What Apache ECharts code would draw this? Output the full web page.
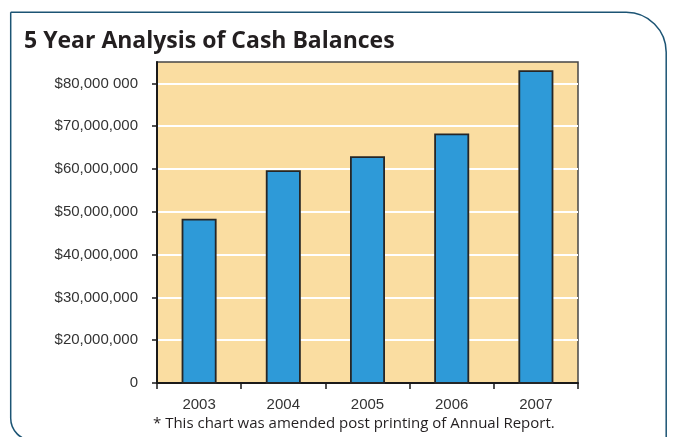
<!DOCTYPE html>
<html>
<head>
<meta charset="utf-8">
<title>5 Year Analysis of Cash Balances</title>
<script src="https://cdn.jsdelivr.net/npm/echarts@6/dist/echarts.min.js"></script>
<style>
  html, body { margin: 0; padding: 0; background: #ffffff; }
  #chart { width: 673px; height: 437px; }
</style>
</head>
<body>
<div id="chart"></div>
<script>
// Year-end cash balances
const years = ['2003', '2004', '2005', '2006', '2007'];
const cashBalances = [48400000, 59700000, 63000000, 68300000, 83100000];

// Value-axis ticks and the text printed beside each one
const yTickValues = [10000000, 20000000, 30000000, 40000000, 50000000, 60000000, 70000000, 80000000];
const yTickLabels = ['0', '$20,000,000', '$30,000,000', '$40,000,000', '$50,000,000', '$60,000,000', '$70,000,000', '$80,000 000'];

const titleText = '5 Year Analysis of Cash Balances';
const footnoteText = '* This chart was amended post printing of Annual Report.';

const chart = echarts.init(document.getElementById('chart'), null, { renderer: 'canvas' });

chart.setOption({
  animation: false,
  backgroundColor: '#ffffff',
  title: {
    text: titleText,
    left: 19,
    top: 25,
    textStyle: {
      fontFamily: 'Open Sans',
      fontWeight: 'bold',
      fontSize: 23,
      color: '#231f20'
    }
  },
  grid: {
    left: 157,
    right: 95,
    top: 62,
    bottom: 54,
    show: true,
    backgroundColor: '#fadda1',
    borderColor: '#464646',
    borderWidth: 1.5
  },
  xAxis: {
    type: 'category',
    data: years,
    boundaryGap: true,
    axisLine: { lineStyle: { color: '#1a1a1a', width: 2 } },
    axisTick: { show: true, length: 6, inside: false, lineStyle: { color: '#1a1a1a', width: 1.5 } },
    axisLabel: {
      margin: 14,
      fontFamily: 'Liberation Sans',
      fontSize: 15,
      color: '#333333'
    },
    splitLine: { show: false }
  },
  yAxis: {
    type: 'value',
    min: 10000000,
    max: 85000000,
    axisLine: { show: true, lineStyle: { color: '#1a1a1a', width: 2 } },
    axisTick: {
      show: true,
      length: 5,
      customValues: yTickValues,
      lineStyle: { color: '#1a1a1a', width: 1.5 }
    },
    axisLabel: {
      margin: 19,
      customValues: yTickValues,
      fontFamily: 'Liberation Sans',
      fontSize: 15,
      color: '#333333',
      formatter: function (v) {
        const i = yTickValues.indexOf(v);
        return i >= 0 ? yTickLabels[i] : '';
      }
    },
    splitLine: { show: true, lineStyle: { color: '#ffffff', width: 2 } }
  },
  series: [{
    type: 'bar',
    data: cashBalances,
    barWidth: 35,
    itemStyle: {
      color: '#2e9ad8',
      borderColor: '#262626',
      borderWidth: 1.8
    }
  }],
  graphic: [
    {
      // outer frame: square top-left, rounded top-right and bottom-left
      type: 'rect',
      z: -10,
      shape: { x: 10.7, y: 12.3, width: 655.5, height: 428, r: [0, 40, 0, 22] },
      style: { fill: null, stroke: '#1c5474', lineWidth: 1.5 }
    },
    {
      type: 'text',
      x: 153,
      y: 424,
      style: {
        text: footnoteText,
        fontFamily: 'Open Sans',
        fontSize: 15,
        fill: '#231f20',
        textVerticalAlign: 'middle'
      }
    }
  ]
});
</script>
</body>
</html>
